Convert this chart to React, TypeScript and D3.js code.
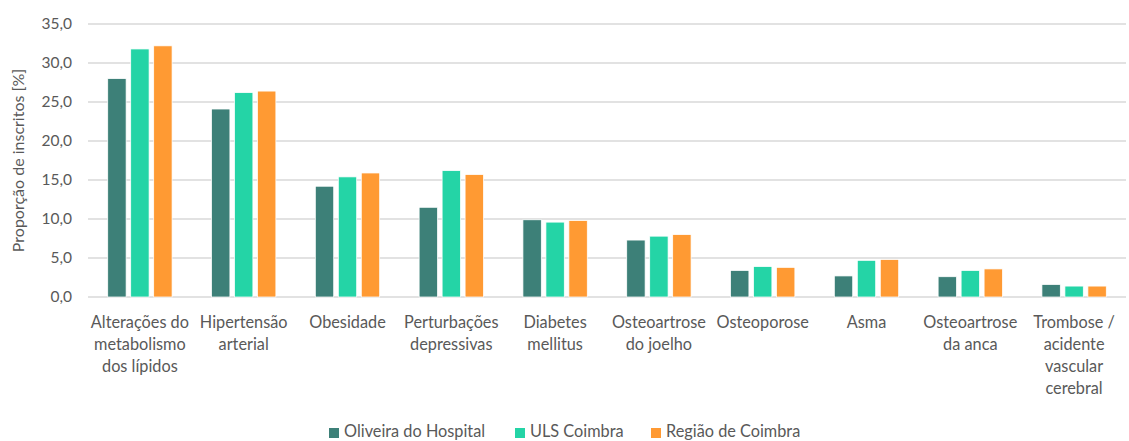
import { useEffect, useRef } from 'react';
import * as d3 from 'd3';

const categories = [
  'Alterações do\nmetabolismo\ndos lípidos',
  'Hipertensão\narterial',
  'Obesidade',
  'Perturbações\ndepressivas',
  'Diabetes\nmellitus',
  'Osteoartrose\ndo joelho',
  'Osteoporose',
  'Asma',
  'Osteoartrose\nda anca',
  'Trombose /\nacidente\nvascular\ncerebral',
];
const seriesNames = ['Oliveira do Hospital', 'ULS Coimbra', 'Região de Coimbra'];
const oliveira = [28.0, 24.1, 14.2, 11.5, 9.9, 7.3, 3.4, 2.7, 2.6, 1.6];
const ulsCoimbra = [31.8, 26.2, 15.4, 16.2, 9.6, 7.8, 3.9, 4.7, 3.4, 1.4];
const regiao = [32.2, 26.4, 15.9, 15.7, 9.8, 8.0, 3.8, 4.8, 3.6, 1.4];
const yTicks = [0, 5, 10, 15, 20, 25, 30, 35];
const colors = ['#3D8078', '#24D4A6', '#FF9A33'];

const W = 1129;
const H = 441;
const FONT = 'Lato, "Open Sans", sans-serif';
const TEXT = '#595959';

export default function App() {
  const ref = useRef<SVGSVGElement>(null);

  useEffect(() => {
    const svg = d3.select(ref.current);
    svg.selectAll('*').remove();
    const left = 88;
    const right = 1126;
    const top = 24;
    const bottom = 297;

    const x = d3.scaleBand<number>().domain(d3.range(categories.length)).range([left, right]);
    const bw = x.bandwidth();
    const sub = d3
      .scaleBand<number>()
      .domain([0, 1, 2])
      .range([bw * 0.19, bw * 0.81])
      .paddingInner(0.2);
    const y = d3.scaleLinear().domain([0, 35]).range([bottom, top]);

    // gridlines
    svg
      .append('g')
      .selectAll('line')
      .data(yTicks)
      .join('line')
      .attr('x1', left)
      .attr('x2', right)
      .attr('y1', (d) => y(d))
      .attr('y2', (d) => y(d))
      .attr('stroke', '#d9d9d9')
      .attr('stroke-width', 1.5);

    // y tick labels
    svg
      .append('g')
      .selectAll('text')
      .data(yTicks)
      .join('text')
      .attr('x', 72)
      .attr('y', (d) => y(d))
      .attr('dy', '0.35em')
      .attr('text-anchor', 'end')
      .attr('font-family', FONT)
      .attr('font-size', 15.5)
      .attr('fill', TEXT)
      .text((d) => d3.format('.1f')(d).replace('.', ','));

    // y title
    svg
      .append('text')
      .attr('transform', `translate(24,${(top + bottom) / 2}) rotate(-90)`)
      .attr('text-anchor', 'middle')
      .attr('font-family', FONT)
      .attr('font-size', 16)
      .attr('fill', TEXT)
      .text('Proporção de inscritos [%]');

    // bars
    const series = [oliveira, ulsCoimbra, regiao];
    series.forEach((vals, s) => {
      svg
        .append('g')
        .selectAll('rect')
        .data(vals)
        .join('rect')
        .attr('x', (_d, i) => (x(i) ?? 0) + (sub(s) ?? 0))
        .attr('width', sub.bandwidth())
        .attr('y', (d) => y(d))
        .attr('height', (d) => bottom - y(d))
        .attr('fill', colors[s])
        .attr('stroke', '#fff')
        .attr('stroke-width', 0.75);
    });

    // x labels
    const lab = svg.append('g');
    categories.forEach((c, i) => {
      const t = lab
        .append('text')
        .attr('x', (x(i) ?? 0) + bw / 2)
        .attr('y', 328)
        .attr('text-anchor', 'middle')
        .attr('font-family', FONT)
        .attr('font-size', 16.3)
        .attr('fill', TEXT);
      c.split('\n').forEach((line, k) => {
        t.append('tspan')
          .attr('x', (x(i) ?? 0) + bw / 2)
          .attr('dy', k === 0 ? 0 : 22)
          .text(line);
      });
    });

    // legend
    const legendX = [329, 515, 651];
    const leg = svg.append('g');
    seriesNames.forEach((n, s) => {
      leg
        .append('rect')
        .attr('x', legendX[s])
        .attr('y', 428)
        .attr('width', 10)
        .attr('height', 10)
        .attr('fill', colors[s]);
      leg
        .append('text')
        .attr('x', legendX[s] + 15)
        .attr('y', 437)
        .attr('font-family', FONT)
        .attr('font-size', 16.3)
        .attr('fill', TEXT)
        .text(n);
    });
  }, []);

  return (
    <svg
      ref={ref}
      width={W}
      height={H}
      style={{ position: 'absolute', left: 0, top: 0, background: '#fff' }}
    />
  );
}
